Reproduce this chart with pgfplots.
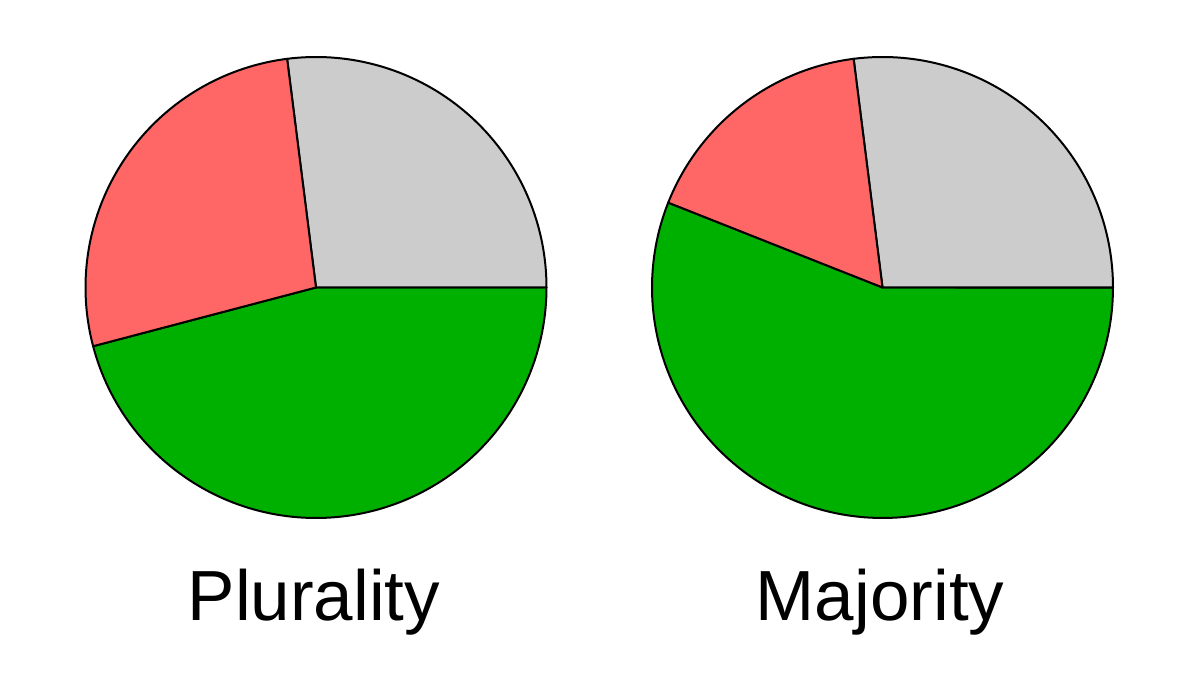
\documentclass[border=0pt]{standalone}
\usepackage{pgfplots}
\usepackage{pgfplotstable}
\pgfplotsset{compat=1.18}
\usepackage{fontspec}
\setmainfont{Liberation Sans}
\definecolor{pgreen}{HTML}{00B000}
\definecolor{pred}{HTML}{FF6666}
\definecolor{pgray}{HTML}{CCCCCC}

% shares in percent
\pgfplotstableread{
slice value
green 45.9
gray 27.0
red 27.1
}\plurality
\pgfplotstableread{
slice value
green 56.0
gray 27.0
red 17.0
}\majority

\newcommand{\getval}[3]{\pgfplotstablegetelem{#2}{value}\of#1\edef#3{\pgfplotsretval}}

\begin{document}
\begin{tikzpicture}
\getval{\plurality}{0}\pG
\getval{\plurality}{1}\pY
\getval{\majority}{0}\mG
\getval{\majority}{1}\mY
\pgfmathsetmacro\pGa{-3.6*\pG}
\pgfmathsetmacro\pYa{3.6*\pY}
\pgfmathsetmacro\pRa{360-3.6*\pG}
\pgfmathsetmacro\mGa{-3.6*\mG}
\pgfmathsetmacro\mYa{3.6*\mY}
\pgfmathsetmacro\mRa{360-3.6*\mG}
\begin{axis}[
  width=600pt, height=345.5pt, scale only axis,
  xmin=0, xmax=1200, ymin=0, ymax=691,
  hide axis, clip=false,
]
\path (axis cs:0,0) rectangle (axis cs:1200,691);
% Plurality pie
\addplot[fill=pgreen, draw=black, line width=1pt, line join=round, domain=\pGa:0, samples=120, variable=\t]
  ({316+230.5*cos(\t)},{403.5+230.5*sin(\t)}) -- (axis cs:316,403.5) -- cycle;
\addplot[fill=pgray, draw=black, line width=1pt, line join=round, domain=0:\pYa, samples=80, variable=\t]
  ({316+230.5*cos(\t)},{403.5+230.5*sin(\t)}) -- (axis cs:316,403.5) -- cycle;
\addplot[fill=pred, draw=black, line width=1pt, line join=round, domain=\pYa:\pRa, samples=80, variable=\t]
  ({316+230.5*cos(\t)},{403.5+230.5*sin(\t)}) -- (axis cs:316,403.5) -- cycle;
% Majority pie
\addplot[fill=pgreen, draw=black, line width=1pt, line join=round, domain=\mGa:0, samples=120, variable=\t]
  ({882.5+230.5*cos(\t)},{403.5+230.5*sin(\t)}) -- (axis cs:882.5,403.5) -- cycle;
\addplot[fill=pgray, draw=black, line width=1pt, line join=round, domain=0:\mYa, samples=80, variable=\t]
  ({882.5+230.5*cos(\t)},{403.5+230.5*sin(\t)}) -- (axis cs:882.5,403.5) -- cycle;
\addplot[fill=pred, draw=black, line width=1pt, line join=round, domain=\mYa:\mRa, samples=80, variable=\t]
  ({882.5+230.5*cos(\t)},{403.5+230.5*sin(\t)}) -- (axis cs:882.5,403.5) -- cycle;
\node[anchor=base, font=\fontsize{35.5}{40}\selectfont] at (axis cs:314,70) {Plurality};
\node[anchor=base, font=\fontsize{35.5}{40}\selectfont] at (axis cs:880,70) {Majority};
\end{axis}
\end{tikzpicture}
\end{document}
